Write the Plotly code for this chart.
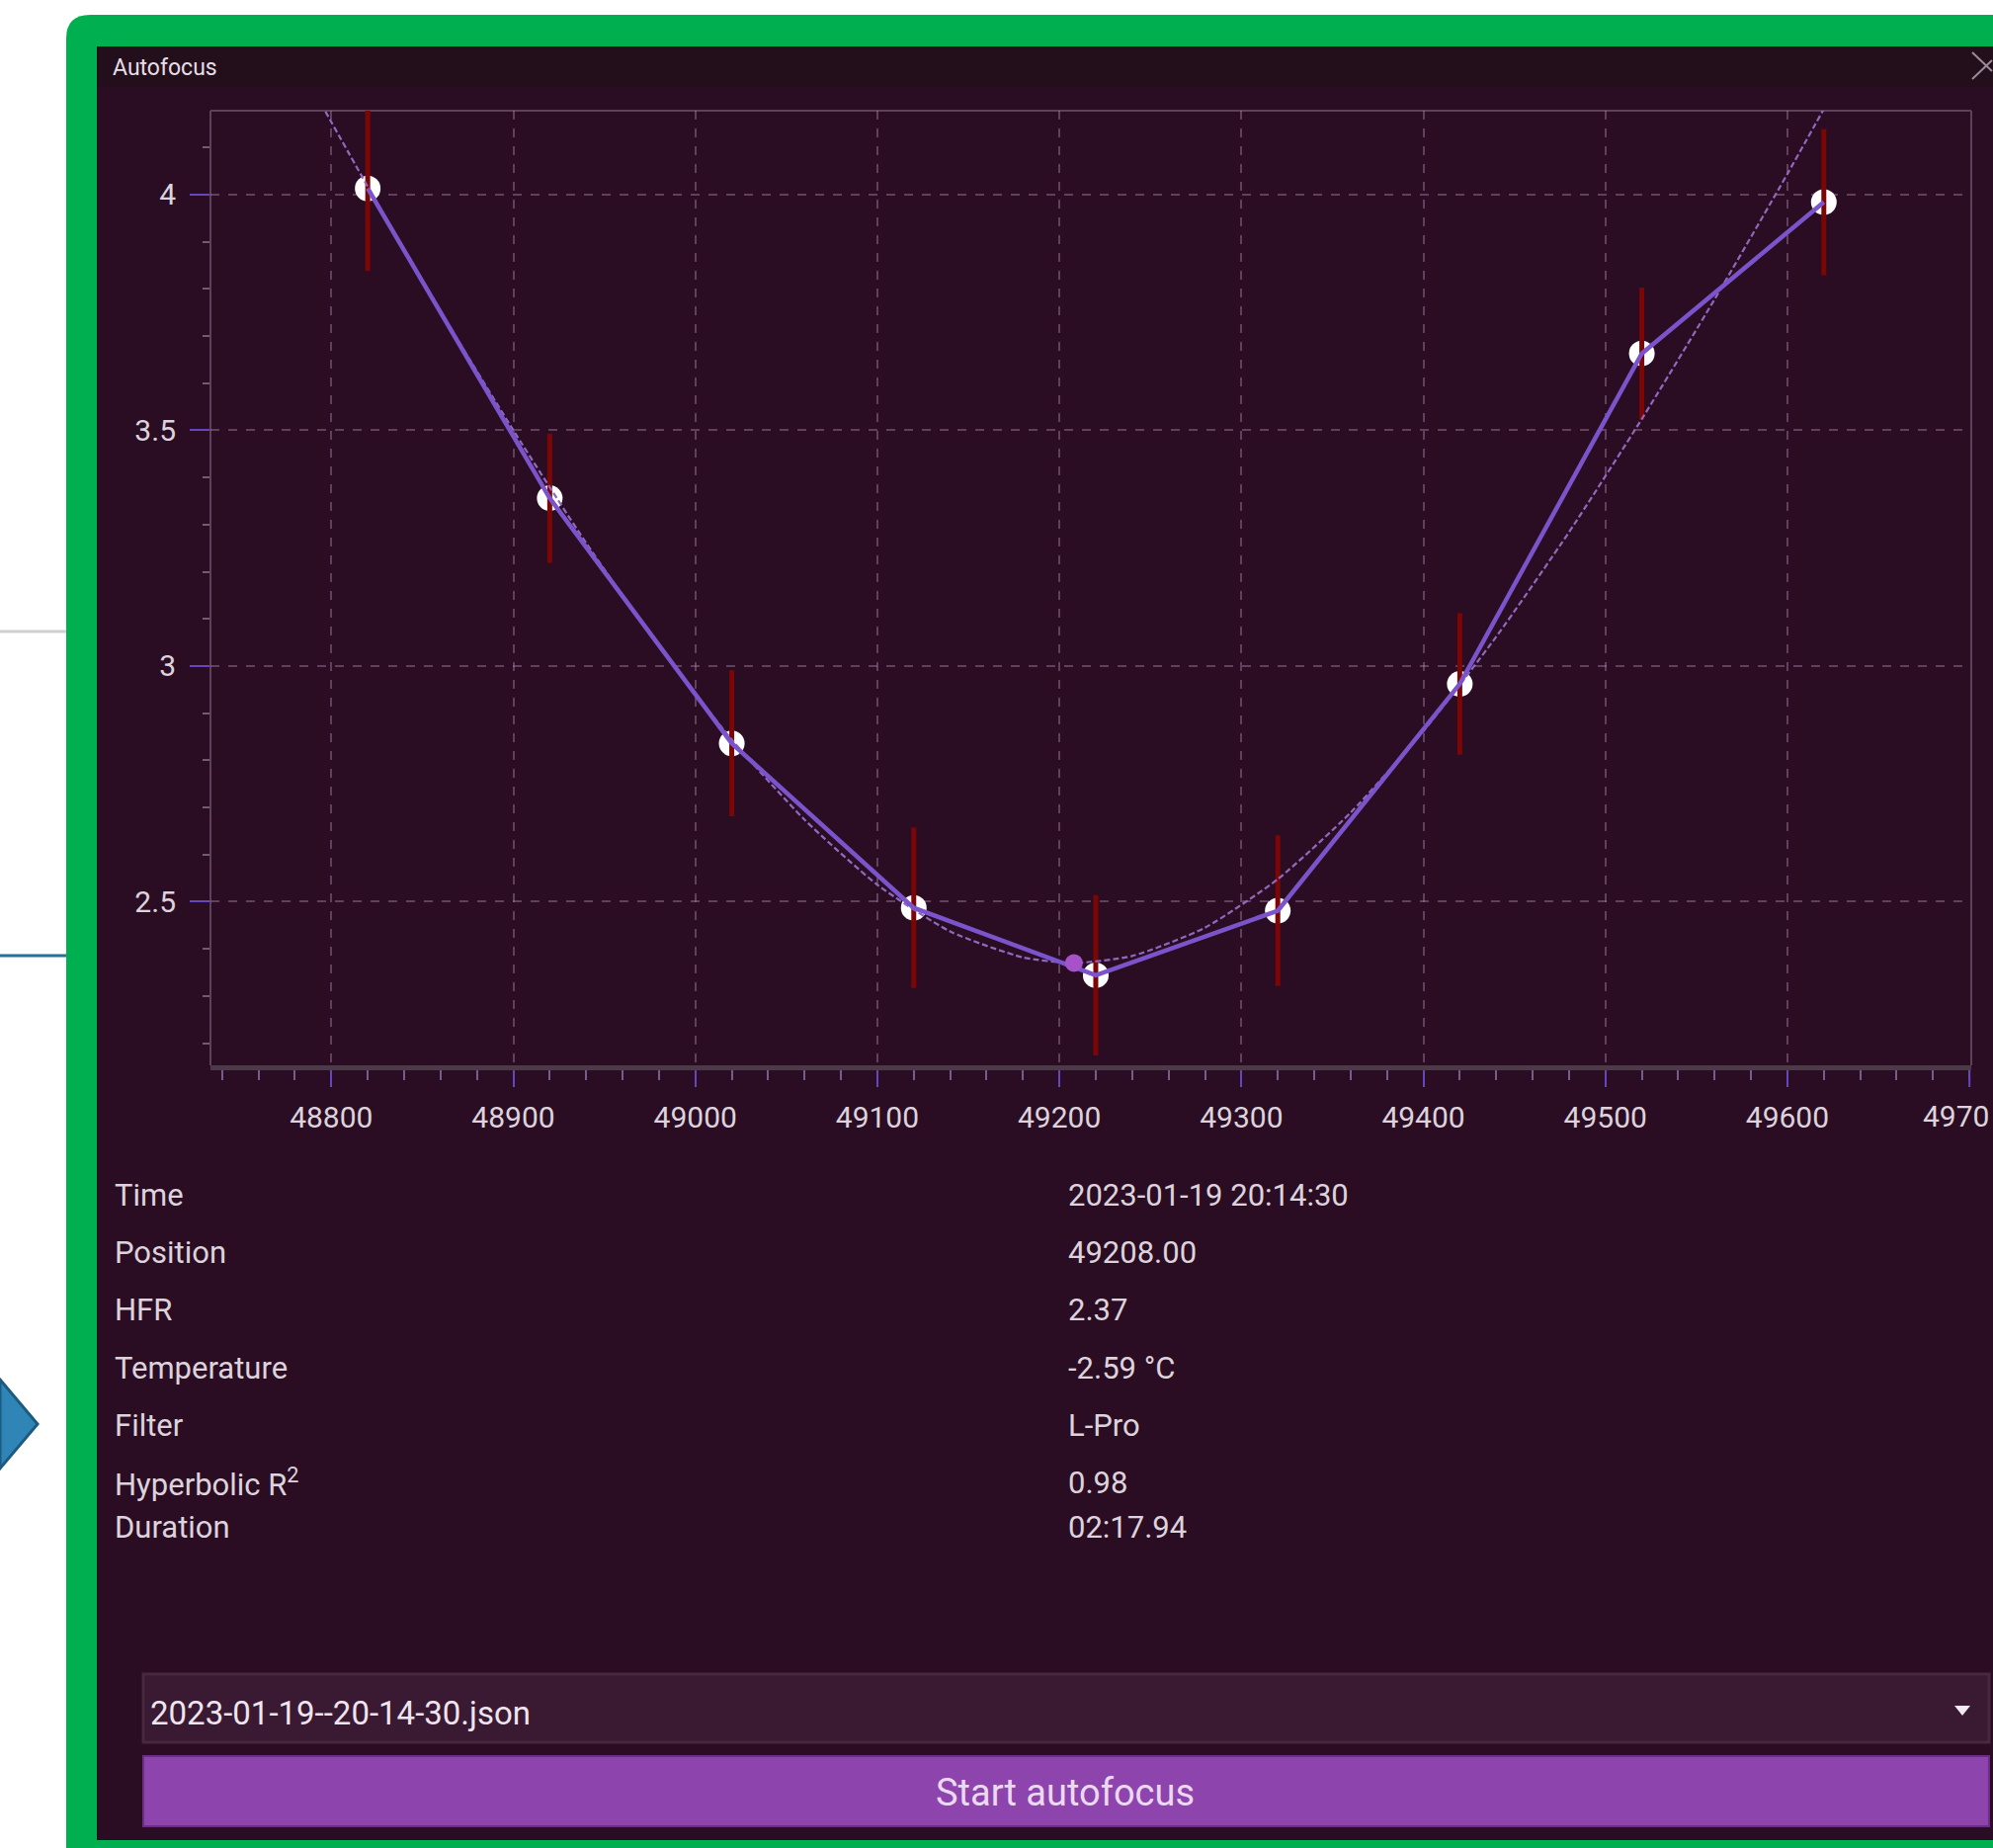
import plotly.graph_objects as go

W, H = 2017, 1870

# ---- data ----
positions = [48820, 48920, 49020, 49120, 49220, 49320, 49420, 49520, 49620]
hfr = [4.013, 3.356, 2.836, 2.487, 2.344, 2.481, 2.962, 3.663, 3.984]
hfr_err = [0.175, 0.137, 0.155, 0.170, 0.170, 0.160, 0.150, 0.140, 0.155]

fit_pos = [48780, 48820, 48860, 48900, 48940, 48980, 49020, 49060, 49100, 49140,
           49180, 49208, 49240, 49280, 49320, 49360, 49400, 49440, 49480, 49520,
           49560, 49600, 49640]
fit_hfr = [4.292, 4.017, 3.752, 3.500, 3.261, 3.041, 2.844, 2.674, 2.536, 2.437,
           2.382, 2.370, 2.385, 2.445, 2.548, 2.689, 2.862, 3.062, 3.284, 3.524,
           3.778, 4.044, 4.320]

focus_pos = [49208]
focus_hfr = [2.37]

x_tick_vals = [48800, 48900, 49000, 49100, 49200, 49300, 49400, 49500, 49600]
x_tick_text = ["48800", "48900", "49000", "49100", "49200", "49300", "49400", "49500", "49600"]
edge_tick_val = 49700
edge_tick_text = "4970"   # last x label, cut off by the window edge in the screenshot
y_tick_vals = [2.5, 3, 3.5, 4]
y_tick_text = ["2.5", "3", "3.5", "4"]

info_labels = ["Time", "Position", "HFR", "Temperature", "Filter", "Hyperbolic R<sup>2</sup>", "Duration"]
info_values = ["2023-01-19 20:14:30", "49208.00", "2.37", "-2.59 °C", "L-Pro", "0.98", "02:17.94"]
info_rows_y = [1209, 1267, 1325, 1384, 1442, 1500, 1545]

window_title = "Autofocus"
file_name = "2023-01-19--20-14-30.json"
button_text = "Start autofocus"

# ---- helpers (pixel -> paper) ----
def fx(x):
    return x / W

def fy(y):
    return 1 - y / H

FONT = "Roboto, Open Sans, sans-serif"
BG = "#2b0d23"
TEXT = "#ddd3dc"

fig = go.Figure()

# white markers (bottom layer)
fig.add_trace(go.Scatter(
    x=positions, y=hfr, mode="markers",
    marker=dict(size=26, color="#ffffff", line=dict(width=0)),
    hoverinfo="skip", showlegend=False))

# error bars
fig.add_trace(go.Scatter(
    x=positions, y=hfr, mode="markers",
    marker=dict(size=1, color="rgba(0,0,0,0)"),
    error_y=dict(type="data", array=hfr_err, visible=True,
                 color="#7a0606", thickness=5, width=0),
    hoverinfo="skip", showlegend=False))

# hyperbolic fit (thin dashed)
fig.add_trace(go.Scatter(
    x=fit_pos, y=fit_hfr, mode="lines",
    line=dict(color="#9068be", width=2.2, dash="6px,3px", shape="spline", smoothing=0.6),
    hoverinfo="skip", showlegend=False))

# measured line
fig.add_trace(go.Scatter(
    x=positions, y=hfr, mode="lines",
    line=dict(color="#7b54cc", width=4.5),
    hoverinfo="skip", showlegend=False))

# final focus point
fig.add_trace(go.Scatter(
    x=focus_pos, y=focus_hfr, mode="markers",
    marker=dict(size=18, color="#a653c9"),
    hoverinfo="skip", showlegend=False))

shapes = []
# green rounded frame
gx0, gy0, r = 67, 15, 24
path = (f"M {fx(gx0)},{fy(H)} L {fx(gx0)},{fy(gy0+r)} "
        f"Q {fx(gx0)},{fy(gy0)} {fx(gx0+r)},{fy(gy0)} "
        f"L {fx(W)},{fy(gy0)} L {fx(W)},{fy(H)} Z")
shapes.append(dict(type="path", xref="paper", yref="paper", path=path,
                   fillcolor="#00b050", line=dict(width=0), layer="below"))
# window body
shapes.append(dict(type="rect", xref="paper", yref="paper",
                   x0=fx(98), x1=fx(W), y0=fy(1862), y1=fy(47),
                   fillcolor=BG, line=dict(width=0), layer="below"))
# title bar
shapes.append(dict(type="rect", xref="paper", yref="paper",
                   x0=fx(98), x1=fx(W), y0=fy(88), y1=fy(47),
                   fillcolor="#220f1b", line=dict(width=0), layer="below"))
# left-side decorations outside the window
shapes.append(dict(type="line", xref="paper", yref="paper",
                   x0=fx(0), x1=fx(67), y0=fy(639), y1=fy(639),
                   line=dict(color="#cfcfcf", width=3), layer="below"))
shapes.append(dict(type="line", xref="paper", yref="paper",
                   x0=fx(0), x1=fx(67), y0=fy(967), y1=fy(967),
                   line=dict(color="#2b6f99", width=3), layer="below"))
chev = (f"M {fx(0)},{fy(1396)} L {fx(38)},{fy(1441)} L {fx(0)},{fy(1486)} Z")
shapes.append(dict(type="path", xref="paper", yref="paper", path=chev,
                   fillcolor="#2f86b6", line=dict(color="#1d5a82", width=3), layer="below"))
# close X (partially visible)
shapes.append(dict(type="line", xref="paper", yref="paper",
                   x0=fx(1996), x1=fx(2016), y0=fy(53), y1=fy(72),
                   line=dict(color="#9b8a99", width=2)))
shapes.append(dict(type="line", xref="paper", yref="paper",
                   x0=fx(1996), x1=fx(2016), y0=fy(80), y1=fy(61),
                   line=dict(color="#9b8a99", width=2)))
# plot frame: top, left, right
frame_col = "#5d4059"
shapes.append(dict(type="line", xref="x domain", yref="y domain",
                   x0=0, x1=1, y0=1, y1=1, line=dict(color=frame_col, width=2), layer="below"))
shapes.append(dict(type="line", xref="x domain", yref="y domain",
                   x0=0, x1=0, y0=0, y1=1, line=dict(color=frame_col, width=2), layer="below"))
shapes.append(dict(type="line", xref="x domain", yref="y domain",
                   x0=1, x1=1, y0=0, y1=1, line=dict(color=frame_col, width=2), layer="below"))
# major tick at the right edge (its label is cut off)
shapes.append(dict(type="line", xref="x", yref="paper",
                   x0=edge_tick_val, x1=edge_tick_val, y0=fy(1083), y1=fy(1100),
                   line=dict(color="#6446c2", width=2)))
# dropdown box
shapes.append(dict(type="rect", xref="paper", yref="paper",
                   x0=fx(145), x1=fx(2013), y0=fy(1763), y1=fy(1694),
                   fillcolor="#3a1932", line=dict(color="#47283f", width=3), layer="below"))
# dropdown arrow
arrow = (f"M {fx(1978)},{fy(1726)} L {fx(1994)},{fy(1726)} L {fx(1986)},{fy(1736)} Z")
shapes.append(dict(type="path", xref="paper", yref="paper", path=arrow,
                   fillcolor="#f2eaf2", line=dict(width=0)))
# start button
shapes.append(dict(type="rect", xref="paper", yref="paper",
                   x0=fx(145), x1=fx(2013), y0=fy(1848), y1=fy(1777),
                   fillcolor="#8d44ac", line=dict(color="#6a2e82", width=2), layer="below"))

annotations = []
annotations.append(dict(xref="paper", yref="paper", x=fx(112), y=fy(68),
                        xanchor="left", yanchor="middle", showarrow=False,
                        text=window_title, font=dict(family=FONT, size=23, color="#e6dde6")))
for lab, val, yy in zip(info_labels, info_values, info_rows_y):
    annotations.append(dict(xref="paper", yref="paper", x=fx(114), y=fy(yy),
                            xanchor="left", yanchor="middle", showarrow=False,
                            text=lab, font=dict(family=FONT, size=31, color=TEXT)))
    annotations.append(dict(xref="paper", yref="paper", x=fx(1079), y=fy(yy),
                            xanchor="left", yanchor="middle", showarrow=False,
                            text=val, font=dict(family=FONT, size=31, color=TEXT)))
annotations.append(dict(xref="paper", yref="paper", x=fx(150), y=fy(1733),
                        xanchor="left", yanchor="middle", showarrow=False,
                        text=file_name, font=dict(family=FONT, size=33, color="#eee5ee")))
annotations.append(dict(xref="paper", yref="paper", x=fx(1078), y=fy(1814),
                        xanchor="center", yanchor="middle", showarrow=False,
                        text=button_text, font=dict(family=FONT, size=38, color="#ecd8f2")))
# cut-off last tick label at the right window edge
annotations.append(dict(xref="paper", yref="paper", x=fx(1944), y=fy(1129),
                        xanchor="left", yanchor="middle", showarrow=False,
                        text=edge_tick_text, font=dict(family=FONT, size=30, color=TEXT)))

grid_col = "rgba(175,135,175,0.42)"

fig.update_layout(
    width=W, height=H, autosize=False,
    margin=dict(l=0, r=0, t=0, b=0, pad=0),
    paper_bgcolor="#ffffff", plot_bgcolor=BG,
    showlegend=False,
    shapes=shapes, annotations=annotations,
    xaxis=dict(
        domain=[fx(213), fx(1995)], range=[48733.6, 49701],
        tickmode="array", tickvals=x_tick_vals, ticktext=x_tick_text,
        showgrid=True, gridcolor=grid_col, griddash="dash", gridwidth=2,
        zeroline=False, showline=True, linecolor="#4b3a48", linewidth=5,
        ticks="outside", ticklen=17, tickwidth=2, tickcolor="#6446c2",
        ticklabelstandoff=5,
        minor=dict(tick0=48800, dtick=20, ticks="outside", ticklen=10,
                   tickwidth=2, tickcolor="#6f5f8a", showgrid=False),
        tickfont=dict(family=FONT, size=30, color=TEXT),
        fixedrange=True,
    ),
    yaxis=dict(
        domain=[fy(1078), fy(112)], range=[2.153, 4.178],
        tickmode="array", tickvals=y_tick_vals, ticktext=y_tick_text,
        showgrid=True, gridcolor=grid_col, griddash="dash", gridwidth=2,
        zeroline=False, showline=False,
        ticks="outside", ticklen=20, tickwidth=2, tickcolor="#6446c2",
        ticklabelstandoff=8,
        minor=dict(tick0=2.5, dtick=0.1, ticks="outside", ticklen=7,
                   tickwidth=2, tickcolor="#6f5f6d", showgrid=False),
        tickfont=dict(family=FONT, size=30, color=TEXT),
        fixedrange=True,
    ),
)

fig.write_html("out.html")
